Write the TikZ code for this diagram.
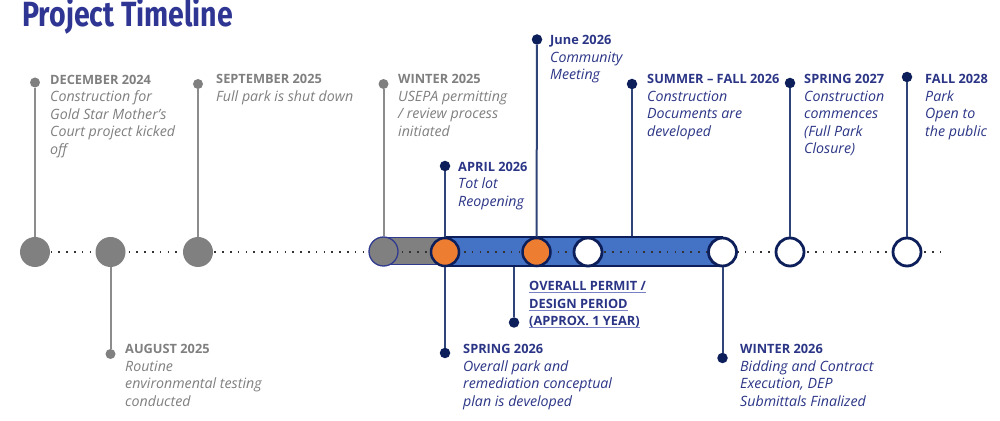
\documentclass[tikz,border=0pt]{standalone}
\usepackage{fontspec}
\usepackage{graphicx}
\setmainfont{Open Sans}
\newfontfamily\titlefont{Fira Sans}
\definecolor{ttl}{HTML}{2E3592}
\definecolor{tgray}{HTML}{7F7F7F}
\definecolor{cgray}{HTML}{808080}
\definecolor{sgray}{HTML}{8C8C8C}
\definecolor{tnavy}{HTML}{2B3586}
\definecolor{dnavy}{HTML}{0D1F5A}
\definecolor{snavy}{HTML}{2F4478}
\definecolor{bnavy}{HTML}{2F3A8F}
\definecolor{cblue}{HTML}{4472C4}
\definecolor{corange}{HTML}{ED7D31}
\definecolor{ulc}{HTML}{7A80C4}
\newcommand\lab[2]{\begin{tabular}[t]{@{}l@{}}\textbf{#1}\\#2\end{tabular}}
\newcommand\ii[1]{{\fontsize{14.2}{17.5}\selectfont\itshape #1}}
\newcommand\myul[1]{\setbox0\hbox{#1}\rlap{\color{ulc}\rule[-2.6pt]{\wd0}{1.1pt}}\box0}
\begin{document}
\begin{tikzpicture}[x=1pt,y=1pt,
  graydot/.style={circle, fill=cgray, inner sep=0, minimum size=10},
  navydot/.style={circle, fill=dnavy, inner sep=0, minimum size=10.5},
  bigg/.style={circle, fill=cgray, inner sep=0, minimum size=30},
  oc/.style={circle, fill=corange, draw=dnavy, line width=2.5, inner sep=0, minimum size=28},
  wc/.style={circle, fill=white, draw=dnavy, line width=2.8, inner sep=0, minimum size=28},
  gstem/.style={draw=sgray, line width=2},
  nstem/.style={draw=snavy, line width=2},
  dotline/.style={draw=black!80, line width=1.6, dash pattern=on 1.6pt off 6.2pt},
  lbl/.style={anchor=base west, inner sep=0, font=\fontsize{12.8}{17.5}\selectfont},
  graylbl/.style={lbl, text=tgray},
  navylbl/.style={lbl, text=tnavy}]
\useasboundingbox (0,0) rectangle (1000,420);
% title
\node[anchor=base west, inner sep=0, text=ttl, font=\fontsize{35}{40}\selectfont] (title) at (22,393.3)
  {\resizebox{211pt}{\height}{\titlefont\bfseries Project Timeline}};
% bars
\node[rectangle, fill=cgray, draw=bnavy, line width=1.3, inner sep=0, minimum width=61, minimum height=27] (gbar) at (414.5,169) {};
\node[rectangle, fill=cblue, draw=dnavy, line width=2.5, inner sep=0, minimum width=277, minimum height=29] (bar) at (583.5,168.3) {};
% dotted axis
\coordinate (ax0) at (35,168);
\coordinate (ax1) at (941,168);
\draw[dotline] (ax0) -- (ax1);
% circles
\node[bigg] (c1) at (35,168) {};
\node[bigg] (c2) at (110.5,168) {};
\node[bigg] (c3) at (198,168) {};
\node[circle, fill=cgray, draw=bnavy, line width=1.3, inner sep=0, minimum size=29] (c4) at (383.5,168.5) {};
\node[oc] (o1) at (445,168) {};
\node[oc] (o2) at (536.5,168) {};
\node[wc] (w1) at (588,168) {};
\node[wc] (w2) at (722.5,168) {};
\node[wc] (w3) at (790,168) {};
\node[wc] (w4) at (907,168) {};
% stem dots
\node[graydot] (t1) at (35,337.5) {};
\node[graydot] (t3) at (198,336) {};
\node[graydot] (t4) at (383.5,336) {};
\node[navydot] (ta) at (445,254) {};
\node[navydot] (tj) at (537,380.5) {};
\node[navydot] (ts) at (632,336) {};
\node[navydot] (t7) at (790,337) {};
\node[navydot] (t8) at (907,343) {};
\node[graydot] (b2) at (110.5,66) {};
\node[navydot] (bs) at (445,67) {};
\node[navydot] (bp) at (514,97.5) {};
\node[navydot] (bw) at (722.5,62) {};
% stems
\draw[gstem] (t1) -- (c1);
\draw[gstem] (t3) -- (c3);
\draw[gstem] (t4) -- (c4);
\draw[gstem] (b2) -- (c2);
\draw[nstem] (ta) -- (o1);
\draw[nstem] (tj) -- (o2);
\draw[nstem] (ts) -- (ts |- bar.north);
\draw[nstem] (t7) -- (w3);
\draw[nstem] (t8) -- (w4);
\draw[nstem] (bs) -- (o1);
\draw[nstem] (bp) -- (bp |- bar.south);
\draw[nstem] (bw) -- (w2);
% labels
\node[graylbl] (l1) at (50,335.7) {\lab{DECEMBER 2024}{\ii{Construction for}\\\ii{Gold Star Mother’s}\\\ii{Court project kicked}\\\ii{off}}};
\node[graylbl] (l2) at (125,66) {\lab{AUGUST 2025}{\ii{Routine}\\\ii{environmental testing}\\\ii{conducted}}};
\node[graylbl] (l3) at (216,336) {\lab{SEPTEMBER 2025}{\ii{Full park is shut down}}};
\node[graylbl] (l4) at (398,336) {\lab{WINTER 2025}{\ii{USEPA permitting}\\\ii{/ review process}\\\ii{initiated}}};
\node[navylbl] (la) at (458,248.5) {\lab{APRIL 2026}{\ii{Tot lot}\\\ii{Reopening}}};
\node[navylbl] (lj) at (550,375) {\lab{June 2026}{\ii{Community}\\\ii{Meeting}}};
\node[navylbl] (ls) at (647,336) {\lab{SUMMER – FALL 2026}{\ii{Construction}\\\ii{Documents are}\\\ii{developed}}};
\node[navylbl] (l7) at (804,336) {\lab{SPRING 2027}{\ii{Construction}\\\ii{commences}\\\ii{(Full Park}\\\ii{Closure)}}};
\node[navylbl] (l8) at (925,336) {\lab{FALL 2028}{\ii{Park}\\\ii{Open to}\\\ii{the public}}};
\node[navylbl] (lsp) at (463,66) {\lab{SPRING 2026}{\ii{Overall park and}\\\ii{remediation conceptual}\\\ii{plan is developed}}};
\node[navylbl] (lp) at (529,129.3) {\begin{tabular}[t]{@{}l@{}}\bfseries\myul{OVERALL PERMIT /}\\\bfseries\myul{DESIGN PERIOD}\\\bfseries\myul{(APPROX. 1 YEAR)}\end{tabular}};
\node[navylbl] (lw) at (740,66) {\lab{WINTER 2026}{\ii{Bidding and Contract}\\\ii{Execution, DEP}\\\ii{Submittals Finalized}}};
\end{tikzpicture}
\end{document}
